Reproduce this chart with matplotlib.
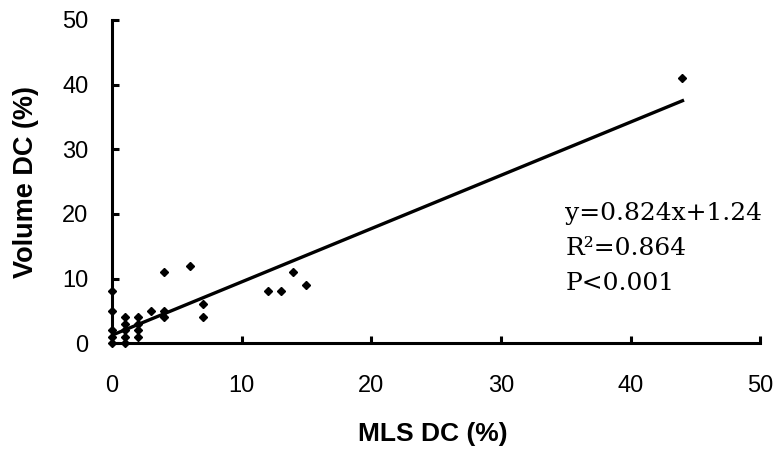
import matplotlib.pyplot as plt

# MLS DC vs Volume DC (%)
mls_dc = [0, 0, 0, 0, 0, 1, 1, 1, 1, 1, 2, 2, 2, 2, 3, 4, 4, 4, 6, 7, 7, 12, 13, 14, 15, 44]
vol_dc = [0, 1, 2, 5, 8, 0, 1, 2, 3, 4, 1, 2, 3, 4, 5, 4, 5, 11, 12, 4, 6, 8, 8, 11, 9, 41]

slope = 0.824
intercept = 1.24
fit_x = [0, 44]
fit_y = [slope * v + intercept for v in fit_x]

stats_lines = ['y=0.824x+1.24', 'R²=0.864', 'P<0.001']

fig = plt.figure(figsize=(7.83, 4.51), dpi=100)
ax = fig.add_axes([0.143, 0.239, 0.828, 0.717])

ax.plot(fit_x, fit_y, color='black', linewidth=2.4)
ax.plot(mls_dc, vol_dc, linestyle='none', marker='D', markersize=4,
        color='black', clip_on=False)

ax.set_xlim(0, 50)
ax.set_ylim(0, 50)
ax.set_xticks(range(0, 51, 10))
ax.set_yticks(range(0, 51, 10))

for side in ['top', 'right']:
    ax.spines[side].set_visible(False)
for side in ['left', 'bottom']:
    ax.spines[side].set_linewidth(2.2)

ax.tick_params(axis='both', direction='in', length=5, width=2.2,
               labelsize=17, colors='black')
ax.tick_params(axis='x', pad=23)
ax.tick_params(axis='y', pad=17)
for lbl in ax.get_xticklabels() + ax.get_yticklabels():
    lbl.set_fontfamily('Liberation Sans')

ax.set_xlabel('MLS DC (%)', fontsize=19, fontweight='bold',
              fontfamily='Liberation Sans')
ax.set_ylabel('Volume DC (%)', fontsize=19.5, fontweight='bold',
              fontfamily='Liberation Sans')
ax.xaxis.set_label_coords(0.495, -0.245)
ax.yaxis.set_label_coords(-0.113, 0.498)

# regression stats, one line each
for i, line in enumerate(stats_lines):
    ax.text(0.699, 0.402 - i * 0.108, line, transform=ax.transAxes,
            fontsize=18, fontfamily='DejaVu Serif', va='center', ha='left')

fig.savefig('out.png', dpi=100)
